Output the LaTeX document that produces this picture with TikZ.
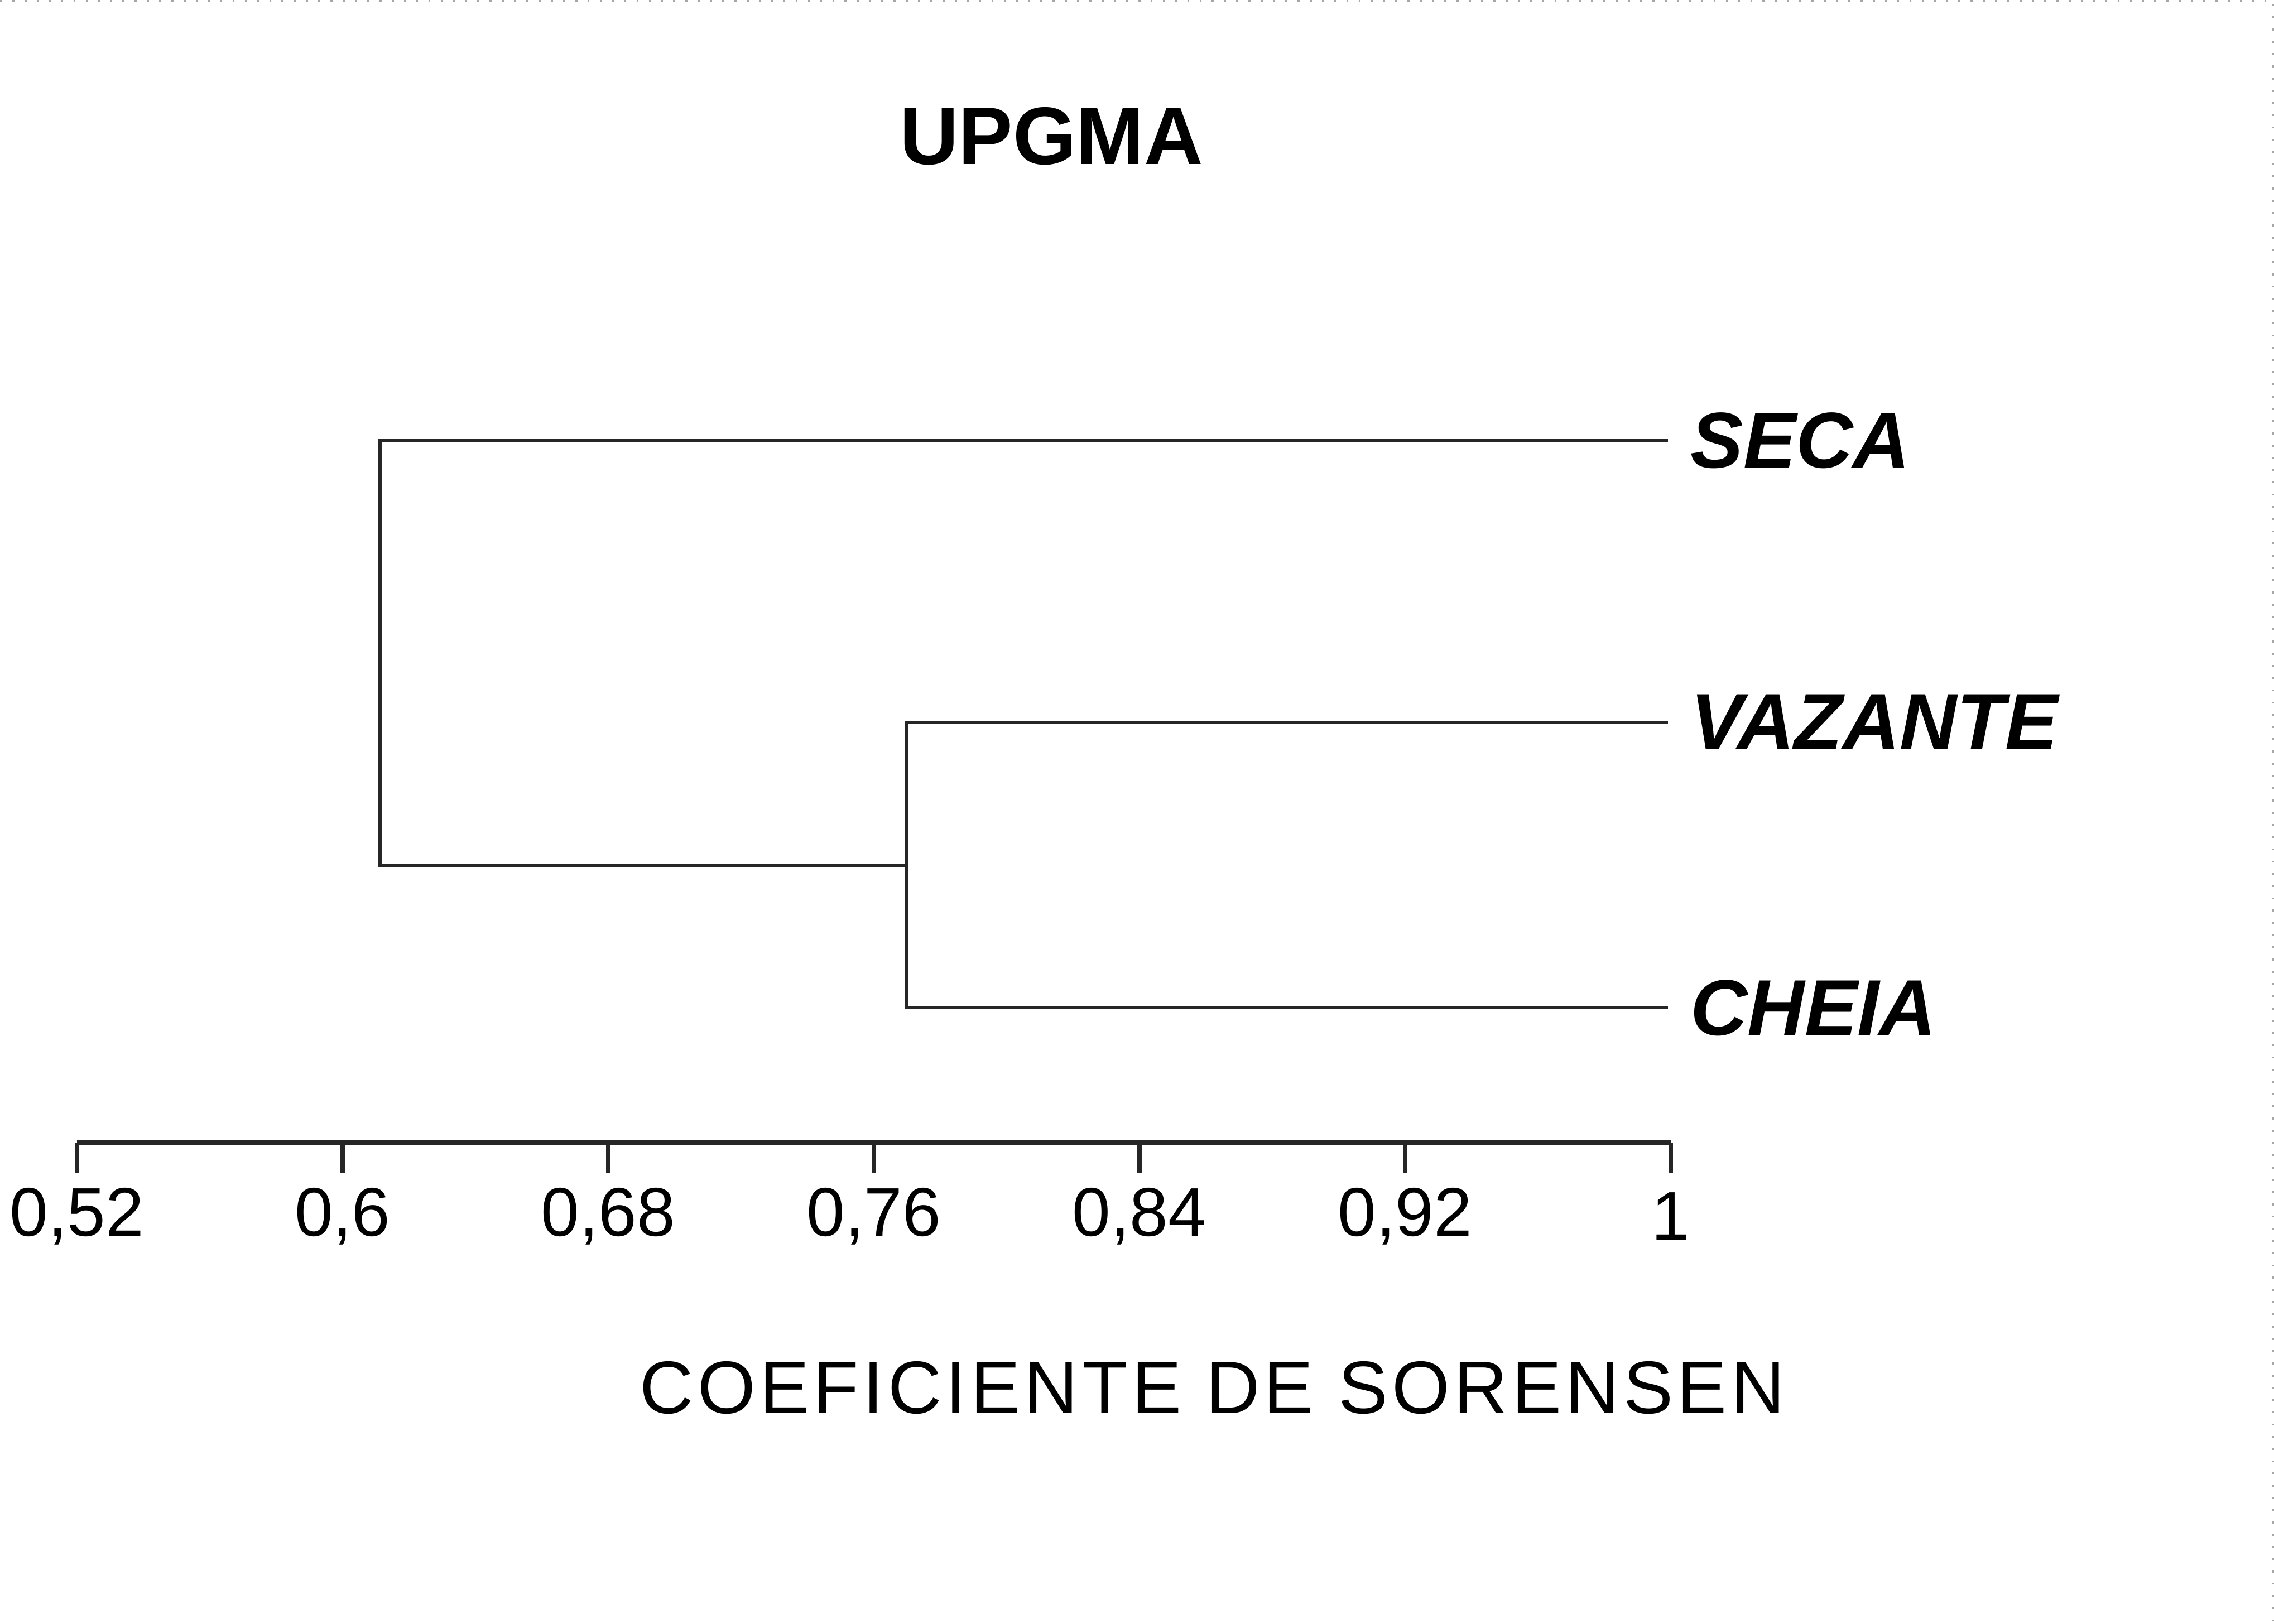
\documentclass[tikz,border=0pt]{standalone}
\usepackage{fontspec}
\setmainfont{Liberation Sans}
\newcommand\titulofont{\fontsize{16}{19}\selectfont\bfseries}
\newcommand\folhafont{\fontsize{15.5}{18}\selectfont\bfseries\itshape}
\newcommand\rotulofont{\fontsize{13.5}{16}\selectfont}
\newcommand\eixofont{\fontsize{14.6}{17}\selectfont\addfontfeature{LetterSpace=5.5}}
\begin{document}
\begin{tikzpicture}
	[x=0.01cm,y=-0.01cm,
	ramo/.style={draw=black!85,line width=0.6pt},
	eixo/.style={draw=black!85,line width=0.9pt},
	borda/.style={draw=black!35,line width=0.4pt,dotted},
	folha/.style={font=\folhafont,anchor=west,inner xsep=0.15cm,inner ysep=0pt},
	rotulo/.style={font=\rotulofont,inner sep=0pt},
	]
	\useasboundingbox (0,0) rectangle (1568,1120);
	\draw[borda] (0,0.5) -- (1567.5,0.5) -- (1567.5,1120);
	\node[font=\titulofont,inner sep=0pt] (titulo) at (725,94) {UPGMA};
	\node[folha] (seca) at (1150,304) {SECA};
	\node[folha] (vazante) at (1150,498) {VAZANTE};
	\node[folha] (cheia) at (1150,695) {CHEIA};
	\coordinate (j1) at (262,597);
	\coordinate (j2) at (625,597);
	\draw[ramo] (seca.west) -| (j1) -- (j2);
	\draw[ramo] (vazante.west) -| (j2) |- (cheia.west);
	\coordinate (e0) at (53,788);
	\coordinate (e1) at (1152,788);
	\draw[eixo] (e0) -- (e1);
	\foreach \t [count=\i from 0] in {{0,52},{0,6},{0,68},{0,76},{0,84},{0,92},{1}}
	{
		\coordinate (m\i) at (53+\i*183.17,788);
		\draw[eixo] (m\i) -- ++(0,21);
		\node[rotulo] (r\i) at (53+\i*183.17,839) {\t};
	}
	\node[font=\eixofont,inner sep=0pt] (legenda) at (836,957) {COEFICIENTE DE SORENSEN};
\end{tikzpicture}
\end{document}
